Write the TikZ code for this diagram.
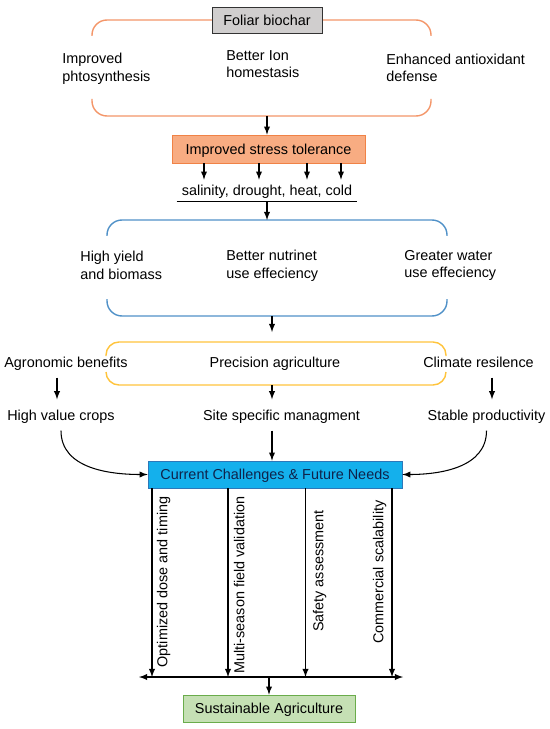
\documentclass[tikz,border=0pt]{standalone}
\usepackage{fontspec}
\setmainfont{Liberation Sans}
\usepackage{tikz}
\usetikzlibrary{arrows}
\usepackage{color}
\definecolor{carrot}{RGB}{244, 150, 105}
\definecolor{peach}{RGB}{248, 172, 130}
\definecolor{pumpkin}{RGB}{240, 130, 70}
\definecolor{silver}{RGB}{208, 206, 206}
\definecolor{belize}{RGB}{80, 145, 200}
\definecolor{sunflower}{RGB}{255, 196, 60}
\definecolor{skyblue}{RGB}{20, 176, 236}
\definecolor{navy}{RGB}{15, 35, 75}
\definecolor{oceanline}{RGB}{45, 120, 185}
\definecolor{mint}{RGB}{197, 224, 180}
\definecolor{nephritis}{RGB}{106, 172, 75}
\tikzset{
    arr/.style     = {-latex, black, semithick},
    lbl/.style     = {font=\fontsize{8.2}{10}\selectfont},
    oneline/.style = {lbl, text height=1.6ex, text depth=0.45ex},
    twoline/.style = {lbl, align=left, anchor=west, inner sep=0pt},
    boxnode/.style = {oneline, draw, minimum width=#1, minimum height=0.54cm, inner sep=1pt},
    bracket/.style = {thick, rounded corners=0.3cm}
}

\begin{document}
\begin{tikzpicture}[x=0.02cm, y=-0.02cm]
            \useasboundingbox[fill=white]                                 (0, 0) rectangle (550, 729);
            \draw[bracket, color=carrot]                                  (92, 36) -- (92, 20) -- (431, 20) -- (431, 36);
            \draw[bracket, color=carrot]                                  (92, 99) -- (92,116) -- (431,116) -- (431, 99);
            \draw[bracket, color=belize]                                  (107,236) -- (107,220) -- (447,220) -- (447,236);
            \draw[bracket, color=belize]                                  (107,299) -- (107,316) -- (447,316) -- (447,299);
            \draw[bracket, color=sunflower, rounded corners=0.26cm]       (106,356) -- (106,342) -- (446,342) -- (446,356);
            \draw[bracket, color=sunflower, rounded corners=0.26cm]       (106,372) -- (106,385) -- (446,385) -- (446,372);

            \node[boxnode=2.2cm,  fill=silver, draw=black!80, minimum height=0.52cm] (foliar) at (267, 20)   {Foliar biochar};
            \node[twoline] (photo)  at ( 62, 68.5) {Improved\\phtosynthesis};
            \node[twoline] (ion)    at (226, 64)   {Better Ion\\homestasis};
            \node[twoline] (antiox) at (386, 68)   {Enhanced antioxidant\\defense};

            \node[boxnode=3.86cm, fill=peach,  draw=pumpkin, minimum height=0.56cm]  (stress) at (268.5,149) {Improved stress tolerance};
            \node[oneline, minimum width=3.6cm, minimum height=0.42cm, inner sep=0pt] (abiotic) at (267,190.5) {salinity, drought, heat, cold};
            \draw[semithick] (abiotic.south west) -- (abiotic.south east);

            \node[twoline] (yield)  at ( 80,265.5) {High yield\\and biomass};
            \node[twoline] (nutr)   at (226,265.5) {Better nutrinet\\use effeciency};
            \node[twoline] (water)  at (404,265.5) {Greater water\\use effeciency};

            \node[oneline] (agro) at ( 66, 362) {Agronomic benefits};
            \node[oneline] (prec) at (275, 362) {Precision agriculture};
            \node[oneline] (clim) at (478.5,362) {Climate resilence};
            \node[oneline] (crops) at ( 61, 415) {High value crops};
            \node[oneline] (site)  at (281.5,415) {Site specific managment};
            \node[oneline] (stab)  at (486.5,415) {Stable productivity};

            \node[boxnode=5.08cm, fill=skyblue, draw=oceanline, text=navy]   (needs) at (275,474.5) {Current Challenges \& Future Needs};
            \node[boxnode=3.44cm, fill=mint,    draw=nephritis]              (sustain) at (269,708.5) {Sustainable Agriculture};

            \node[oneline, rotate=90] (dose)   at (162, 582) {Optimized dose and timing};
            \node[oneline, rotate=90] (season) at (239, 585) {Multi-season field validation};
            \node[oneline, rotate=90] (safety) at (318, 571) {Safety assessment};
            \node[oneline, rotate=90] (scale)  at (378, 572) {Commercial scalability};

            \coordinate (obot)  at (267,116);
            \coordinate (btop)  at (267,220);
            \coordinate (bbot)  at (272,316);
            \coordinate (ytop)  at (272,332);
            \coordinate (ybot)  at (272,385);
            \coordinate (lbase) at (139,677);
            \coordinate (rbase) at (403,677);
            \coordinate (mbase) at (269,677);

            \draw[arr] (obot) -- (obot |- stress.north);
            \foreach \x in {204,259,307,341}
                \draw[arr] (stress.south -| \x,0) -- (abiotic.north -| \x,0);
            \draw[arr] (abiotic.south -| btop) -- (btop);
            \draw[arr] (bbot) -- (ytop);
            \draw[arr] ([xshift=-0.18cm]agro.south) -- ([xshift=-0.18cm]agro.south |- crops.north);
            \draw[arr] (ybot) -- (ybot |- site.north);
            \draw[arr] ([xshift=0.27cm]clim.south) -- ([xshift=0.27cm]clim.south |- stab.north);
            \draw[arr] (crops.south) to[out=-90, in=180] (needs.west);
            \draw[arr] (stab.south)  to[out=-90, in=0]   (needs.east);
            \draw[arr] (site.south -| ybot) -- (ybot |- needs.north);
            \foreach \x in {152,228,305.5,392}
                \draw[arr] (needs.south -| \x,0) -- (lbase -| \x,0);
            \draw[latex-latex, semithick] (lbase) -- (rbase);
            \draw[arr] (mbase) -- (sustain.north);
        \end{tikzpicture}
\end{document}
